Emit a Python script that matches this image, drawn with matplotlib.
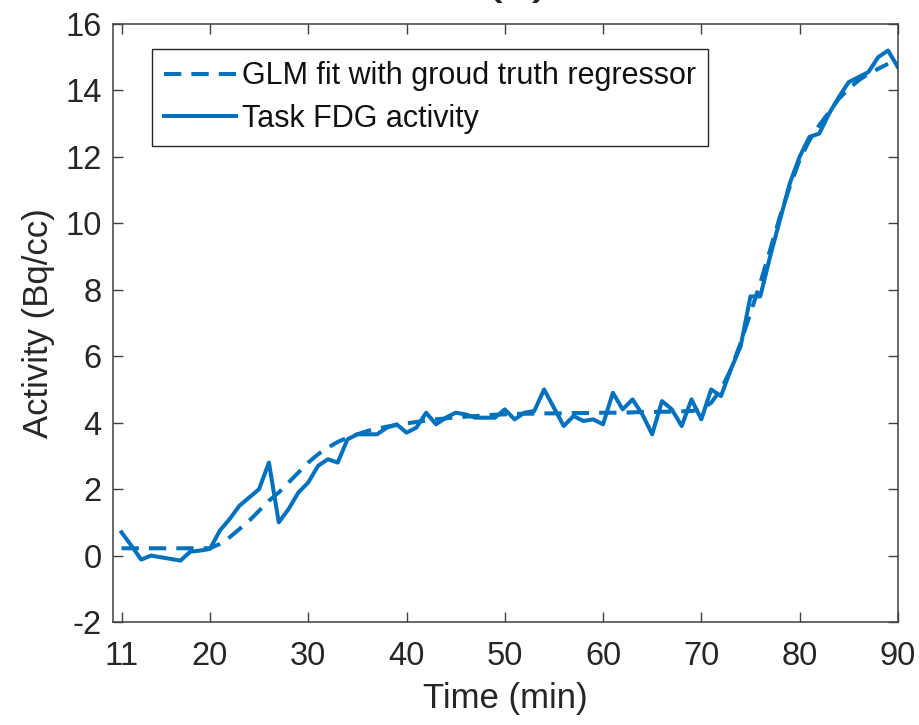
import matplotlib
matplotlib.use("Agg")
import matplotlib.pyplot as plt

plt.rcParams["font.family"] = ["Liberation Sans", "DejaVu Sans"]
plt.rcParams["axes.unicode_minus"] = False

# Measured task FDG activity, one sample per minute (11-90 min)
time_task = [11, 12, 13, 14, 15, 16, 17, 18, 19, 20,
             21, 22, 23, 24, 25, 26, 27, 28, 29, 30,
             31, 32, 33, 34, 35, 36, 37, 38, 39, 40,
             41, 42, 43, 44, 45, 46, 47, 48, 49, 50,
             51, 52, 53, 54, 55, 56, 57, 58, 59, 60,
             61, 62, 63, 64, 65, 66, 67, 68, 69, 70,
             71, 72, 73, 74, 75, 76, 77, 78, 79, 80,
             81, 82, 83, 84, 85, 86, 87, 88, 89, 90]
task_activity = [0.70, 0.30, -0.12, 0.00, -0.05, -0.10, -0.15, 0.12, 0.15, 0.20,
                 0.75, 1.10, 1.50, 1.75, 2.00, 2.80, 1.00, 1.40, 1.90, 2.20,
                 2.70, 2.90, 2.80, 3.50, 3.65, 3.65, 3.65, 3.85, 3.95, 3.70,
                 3.85, 4.30, 3.95, 4.15, 4.30, 4.25, 4.15, 4.15, 4.15, 4.40,
                 4.10, 4.30, 4.35, 5.00, 4.45, 3.90, 4.20, 4.05, 4.10, 3.95,
                 4.90, 4.40, 4.70, 4.25, 3.65, 4.65, 4.40, 3.90, 4.70, 4.10,
                 5.00, 4.80, 5.60, 6.30, 7.80, 7.80, 9.00, 10.10, 11.20, 12.00,
                 12.60, 12.70, 13.30, 13.80, 14.25, 14.40, 14.55, 15.00, 15.20, 14.70]

# GLM fit using the ground-truth regressor
time_fit = time_task[:-1]
fit_activity = [0.22, 0.22, 0.22, 0.22, 0.22, 0.22, 0.22, 0.22, 0.22, 0.22,
                0.35, 0.55, 0.80, 1.05, 1.35, 1.65, 1.90, 2.20, 2.50, 2.80,
                3.05, 3.25, 3.42, 3.55, 3.65, 3.75, 3.82, 3.88, 3.93, 3.98,
                4.02, 4.06, 4.10, 4.13, 4.16, 4.18, 4.20, 4.22, 4.24, 4.25,
                4.26, 4.27, 4.27, 4.28, 4.28, 4.28, 4.29, 4.29, 4.29, 4.30,
                4.30, 4.30, 4.31, 4.32, 4.32, 4.33, 4.33, 4.34, 4.35, 4.40,
                4.60, 5.00, 5.60, 6.40, 7.30, 8.20, 9.20, 10.20, 11.10, 11.90,
                12.50, 12.95, 13.35, 13.75, 14.05, 14.30, 14.50, 14.65, 14.80]

x_ticks = [11, 20, 30, 40, 50, 60, 70, 80, 90]
y_ticks = [-2, 0, 2, 4, 6, 8, 10, 12, 14, 16]

line_color = "#0072BD"
axis_color = "#404040"
text_color = "#262626"

fig = plt.figure(figsize=(9.19, 7.25), dpi=100)
ax = fig.add_axes([0.1226, 0.142, 0.977 - 0.1226, 0.967 - 0.142])

ax.plot(time_fit, fit_activity, color=line_color, lw=2.9,
        dashes=(4.3, 2.5), label="GLM fit with groud truth regressor")
ax.plot(time_task, task_activity, color=line_color, lw=2.9,
        label="Task FDG activity")

ax.set_xlim(10.1, 90)
ax.set_ylim(-2, 16)
ax.set_xticks(x_ticks)
ax.set_yticks(y_ticks)
ax.tick_params(direction="in", length=7, width=1.0, color=axis_color,
               labelsize=23.5, labelcolor=text_color, top=True, right=True)
ax.tick_params(axis="x", pad=14)
ax.tick_params(axis="y", pad=8)
for sp in ax.spines.values():
    sp.set_color(axis_color)
    sp.set_linewidth(1.1)

ax.set_xlabel("Time (min)", fontsize=25, color=text_color, labelpad=7)
ax.set_ylabel("Activity (Bq/cc)", fontsize=25, color=text_color, labelpad=7)

leg = ax.legend(loc="upper left", bbox_to_anchor=(0.05, 0.958),
                fontsize=22, frameon=True, fancybox=False,
                edgecolor="#262626", framealpha=1, borderaxespad=0,
                handlelength=2.35, handletextpad=0.2, borderpad=0.4,
                labelspacing=0.42)
leg.get_frame().set_linewidth(1.0)
for t in leg.get_texts():
    t.set_color("#111111")

# Panel label sits mostly above the figure edge
fig.text(0.5626, 1 + 9 / 725, "(c)", fontsize=43, ha="center",
         va="baseline", color=text_color)

fig.savefig("out.png", dpi=100)
